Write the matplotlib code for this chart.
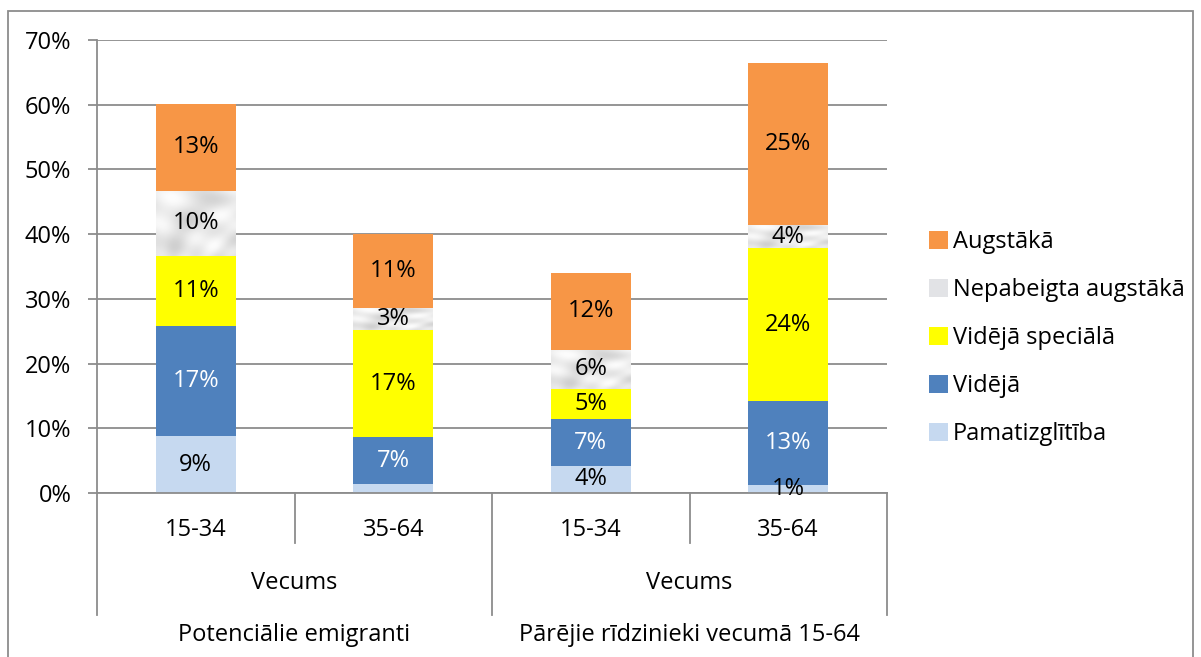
import numpy as np
import matplotlib
matplotlib.use("Agg")
import matplotlib.pyplot as plt
from matplotlib.patches import Rectangle

# ---- data ----
ages = ["15-34", "35-64", "15-34", "35-64"]
age_title = "Vecums"
groups = ["Potenciālie emigranti", "Pārējie rīdzinieki vecumā 15-64"]
series = ["Pamatizglītība", "Vidējā", "Vidējā speciālā", "Nepabeigta augstākā", "Augstākā"]
pamat = [8.8, 1.4, 4.2, 1.2]
videja = [17.0, 7.2, 7.2, 13.0]
vid_spec = [10.8, 16.6, 4.7, 23.6]
nepab = [10.1, 3.4, 6.0, 3.6]
augst = [13.4, 11.4, 11.9, 25.1]
lab_pamat = ["9%", "", "4%", "1%"]
lab_videja = ["17%", "7%", "7%", "13%"]
lab_vid_spec = ["11%", "17%", "5%", "24%"]
lab_nepab = ["10%", "3%", "6%", "4%"]
lab_augst = ["13%", "11%", "12%", "25%"]
yticks = [0, 10, 20, 30, 40, 50, 60, 70]

values = [pamat, videja, vid_spec, nepab, augst]
labels = [lab_pamat, lab_videja, lab_vid_spec, lab_nepab, lab_augst]
colors = ["#C6D9F0", "#4F81BD", "#FFFF00", "#E2E3E6", "#F79646"]
txtcol = ["black", "white", "black", "black", "black"]

FONT = "Open Sans"
plt.rcParams["font.family"] = [FONT, "DejaVu Sans"]
FS = 17

fig = plt.figure(figsize=(12.01, 6.57), dpi=100)
W, H = 1201, 657
L, R, B, T = 97, 887, 493, 40
ax = fig.add_axes([L / W, 1 - B / H, (R - L) / W, (B - T) / H])

x = np.arange(len(ages)) + 0.5
bw = 0.405
bottom = np.zeros(len(ages))
containers = []
for i, (vals, labs) in enumerate(zip(values, labels)):
    vals = np.array(vals)
    bc = ax.bar(x, vals, bw, bottom=bottom, color=colors[i], label=series[i],
                zorder=3, linewidth=0)
    containers.append(bc)
    if series[i] == "Nepabeigta augstākā":
        # soft marble-like light gray texture clipped to each bar
        yy, xx = np.mgrid[0:1:120j, 0:1:60j]
        tex = (0.5 + 0.25 * np.sin(7 * xx + 4 * yy) + 0.2 * np.sin(13 * yy - 6 * xx + 1.3)
               + 0.15 * np.sin(19 * xx * yy + 3 * xx))
        tex = (tex - tex.min()) / (tex.max() - tex.min())
        for p in bc.patches:
            xb, yb = p.get_x(), p.get_y()
            im = ax.imshow(tex, cmap="gray", vmin=-4.5, vmax=1.05,
                           extent=[xb, xb + p.get_width(), yb, yb + p.get_height()],
                           aspect="auto", zorder=3.5, interpolation="bicubic")
            im.set_clip_path(p)
    for xi, b0, v, t in zip(x, bottom, vals, labs):
        if t:
            ax.text(xi, b0 + v / 2, t, ha="center", va="center", fontsize=FS,
                    color=txtcol[i], zorder=5)
    bottom = bottom + vals

ax.set_xlim(0, 4)
ax.set_ylim(0, 70)
ax.set_yticks(yticks)
ax.set_yticklabels([f"{v}%" for v in yticks], fontsize=FS)
ax.set_xticks([])
ax.tick_params(axis="y", length=6.5, width=1.3, color="#8C8C8C", pad=12)
ax.yaxis.grid(True, color="#8C8C8C", linewidth=1.3, zorder=0)
ax.set_axisbelow(True)
for s in ["top", "right"]:
    ax.spines[s].set_visible(False)
for s in ["left", "bottom"]:
    ax.spines[s].set_color("#8C8C8C")
    ax.spines[s].set_linewidth(1.3)
    ax.spines[s].set_zorder(4)

# multi-level category axis
tr = ax.get_xaxis_transform()
for xv in [0, 2, 4]:
    ax.plot([xv, xv], [0, -0.27], transform=tr, color="#8C8C8C", lw=1.3, clip_on=False)
for xv in [1, 3]:
    ax.plot([xv, xv], [0, -0.11], transform=tr, color="#8C8C8C", lw=1.3, clip_on=False)
for xi, a in zip(x, ages):
    ax.text(xi, -0.082, a, transform=tr, ha="center", va="center", fontsize=FS)
for gi, g in enumerate(groups):
    ax.text(2 * gi + 1, -0.199, age_title, transform=tr, ha="center", va="center", fontsize=FS)
    ax.text(2 * gi + 1, -0.3135, g, transform=tr, ha="center", va="center", fontsize=FS)

# legend (reversed order)
h = containers[::-1]
leg = fig.legend(h, [c.get_label() for c in h], loc="center left",
                 bbox_to_anchor=(929 / W, 1 - 338 / H), frameon=False, fontsize=FS,
                 handlelength=0.8, handleheight=0.8, handletextpad=0.2,
                 labelspacing=1.02, borderpad=0, borderaxespad=0)

# outer chart border
fig.patches.append(Rectangle((8 / W, -0.05), 1185 / W, 1 - 11 / H + 0.05,
                             transform=fig.transFigure, fill=False,
                             edgecolor="#8C8C8C", linewidth=1.3))

fig.savefig("out.png", dpi=100)
